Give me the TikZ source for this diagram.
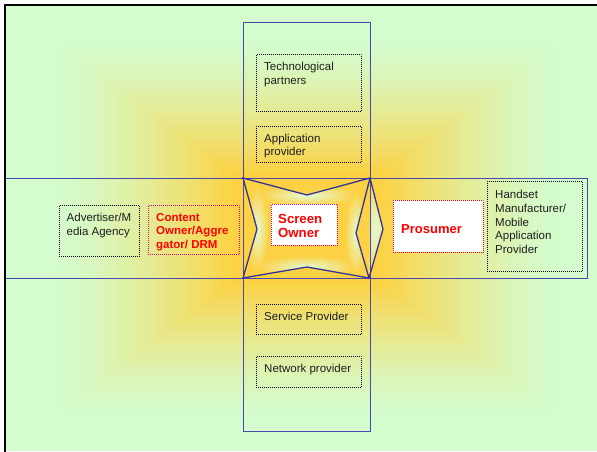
\documentclass[tikz,border=0pt]{standalone}
\usepackage{fontspec}
\setmainfont{Liberation Sans}
\definecolor{gold}{RGB}{252,210,68}
\definecolor{lgreen}{RGB}{212,252,206}
\definecolor{bandblue}{RGB}{72,72,172}
\definecolor{starblue}{RGB}{52,52,150}
\definecolor{pale}{RGB}{228,250,214}
\definecolor{txtgray}{RGB}{30,30,30}
\begin{document}
\begin{tikzpicture}[x=1pt,y=-1pt,
  dotbox/.style={rectangle, draw=black, line width=0.9pt, dash pattern=on 0.9pt off 1.1pt, inner sep=0pt, anchor=north west},
  magbox/.style={dotbox, draw=magenta},
  redbox/.style={dotbox, draw=red},
  txt/.style={inner sep=0pt, anchor=north west, align=left, text=txtgray, font=\fontsize{11.5}{13.8}\selectfont},
  redtxt/.style={txt, text=red, font=\bfseries\fontsize{11.5}{13.5}\selectfont},
  bandline/.style={draw=bandblue, line width=0.8pt},
  starline/.style={draw=starblue, line width=1.3pt, line join=miter},
  glow/.style={inner color=pale, outer color=gold}]
\useasboundingbox (0,0) rectangle (597,452);
\fill[white] (0,0) rectangle (597,452);
% background rectangular gradient
\begin{scope}
\clip (5,5) rectangle (597,452);
\foreach \i in {0,...,90}{
  \pgfmathsetmacro{\d}{1-\i/90}
  \pgfmathsetmacro{\p}{100*(max(0,min(1,(0.85-\d)/0.6)))^1.4}
  \fill[gold!\p!lgreen] ({307-302*\d},{228-223*\d}) rectangle ({307+302*\d},{228+223*\d});
}
\end{scope}
% star coordinates
\coordinate (A) at (243,178);
\coordinate (B) at (370,178);
\coordinate (C) at (369,278);
\coordinate (D) at (243,278);
\coordinate (T) at (307,195);
\coordinate (Bt) at (307,267);
\coordinate (L) at (257,229);
\coordinate (Ri) at (356,233);
\coordinate (Ro) at (383,229);
% star fill
\fill[gold] (A)--(T)--(B)--(Ri)--(C)--(Bt)--(D)--(L)--cycle;
\begin{scope}
\clip (A)--(T)--(B)--(Ri)--(C)--(Bt)--(D)--(L)--cycle;
\shade[glow] (307,195) ellipse [x radius=50, y radius=11];
\shade[glow] (307,267) ellipse [x radius=50, y radius=11];
\shade[glow] (257,229) ellipse [x radius=11, y radius=42];
\shade[glow] (356,233) ellipse [x radius=11, y radius=42];
\end{scope}
\begin{scope}
\clip (B)--(Ro)--(C)--cycle;
\shade[glow] (375,230) ellipse [x radius=16, y radius=60];
\end{scope}
% bands
\draw[bandline] (243,22) rectangle (370,431);
\draw[bandline] (5,178) rectangle (587,278);
% star lines
\draw[starline] (A)--(T)--(B)--(Ri)--(C)--(Bt)--(D)--(L)--cycle;
\draw[starline] (B)--(Ro)--(C);
% boxes
\node[dotbox, minimum width=105, minimum height=57] (tp) at (256,54) {};
\node[dotbox, minimum width=105, minimum height=36] (ap) at (256,126) {};
\node[dotbox, minimum width=105, minimum height=30] (sp) at (256,304) {};
\node[dotbox, minimum width=105, minimum height=31] (np) at (256,356) {};
\node[dotbox, minimum width=80, minimum height=51] (adv) at (59,205) {};
\node[magbox, minimum width=91, minimum height=49] (co) at (148,205) {};
\node[magbox, fill=white, minimum width=66, minimum height=41] (so) at (271,204) {};
\node[redbox, fill=white, minimum width=90, minimum height=52] (pr) at (393,200) {};
\node[dotbox, minimum width=95, minimum height=90] (hs) at (487,181) {};
% texts
\node[txt] (tpt) at (264,62) {Technological\\partners};
\node[txt] (apt) at (264,133.5) {Application\\provider};
\node[txt] (spt) at (264,312) {Service Provider};
\node[txt] (npt) at (264,363.5) {Network provider};
\node[txt] (advt) at (66.5,213) {Advertiser/M\\edia Agency};
\node[redtxt] (cot) at (156,213) {Content\\Owner/Aggre\\gator/ DRM};
\node[redtxt, font=\bfseries\fontsize{13.2}{13.8}\selectfont] (sot) at (278,214) {Screen\\Owner};
\node[redtxt, anchor=west, font=\bfseries\fontsize{13}{14}\selectfont] (prt) at (401,229.5) {Prosumer};
\node[txt] (hst) at (495,190) {Handset\\Manufacturer/\\Mobile\\Application\\Provider};
% frame
\draw[line width=2pt] (5,452)--(5,5)--(597,5);
\end{tikzpicture}
\end{document}
